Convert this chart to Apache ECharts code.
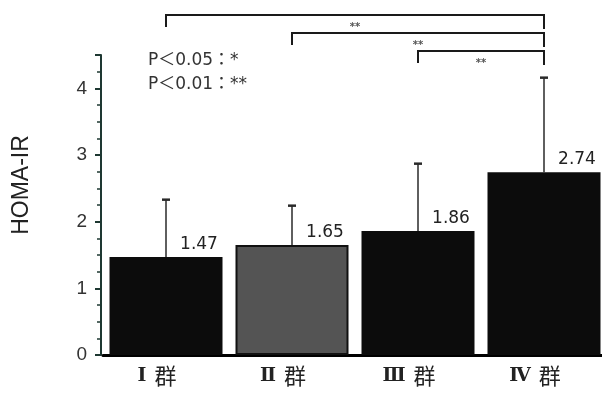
<!DOCTYPE html>
<html>
<head>
<meta charset="utf-8">
<script src="https://cdn.jsdelivr.net/npm/echarts@6/dist/echarts.min.js"></script>
<style>html,body{margin:0;padding:0;background:#fff}#c{width:602px;height:394px}</style>
</head>
<body>
<div id="c"></div>
<script>
// ---- data ----
var categories = ['Ⅰ群', 'Ⅱ群', 'Ⅲ群', 'Ⅳ群'];
var means = [1.47, 1.65, 1.86, 2.74];
var errorTops = [2.33, 2.24, 2.87, 4.16];
var yTicks = [0, 1, 2, 3, 4];
var brackets = [[0, 3, '**'], [1, 3, '**'], [2, 3, '**']];
var legendLines = ['P＜0.05：*', 'P＜0.01：**'];

// ---- styles ----
var barColors = ['#0c0c0c', '#545454', '#0c0c0c', '#0c0c0c'];
var axisColor = '#1e3832';

var chart = echarts.init(document.getElementById('c'));

var barData = means.map(function (v, i) {
  return {
    value: v,
    itemStyle: { color: barColors[i], borderColor: '#111', borderWidth: i === 1 ? 2 : 0 }
  };
});
var errData = means.map(function (v, i) { return [i, v, errorTops[i]]; });
var brData = brackets.map(function (b, k) { return [b[0], b[1], k, b[2]]; });

chart.setOption({
  animation: false,
  grid: { left: 103, width: 504, top: 55, height: 300, containLabel: false, outerBoundsMode: 'none' },
  xAxis: {
    type: 'category',
    data: categories,
    axisLine: { lineStyle: { color: '#000', width: 3 } },
    axisTick: { show: false },
    axisLabel: {
      margin: 10,
      padding: [0, 18, 0, 0],
      formatter: function (v) {
        return '{r|' + v.slice(0, -1) + '}{g|' + v.slice(-1) + '}';
      },
      rich: {
        r: { fontFamily: 'DejaVu Serif', fontWeight: 'bold', fontSize: 19, color: '#222', padding: [0, 8, 0, 0] },
        g: { fontFamily: 'Noto Sans CJK JP', fontSize: 22, color: '#222' }
      }
    }
  },
  yAxis: {
    type: 'value',
    min: 0, max: 4.5, interval: 1,
    offset: 2,
    name: 'HOMA-IR',
    nameLocation: 'middle',
    nameGap: 68,
    nameTextStyle: { fontFamily: 'Liberation Sans', fontSize: 23, color: '#222', padding: [0, 0, 0, 40] },
    axisLine: { show: true, lineStyle: { color: axisColor, width: 2 } },
    axisTick: { show: true, inside: false, length: 6, lineStyle: { color: axisColor, width: 2 } },
    minorTick: { show: true, splitNumber: 4, length: 4, lineStyle: { color: axisColor, width: 1.5 } },
    splitLine: { show: false },
    axisLabel: {
      margin: 14,
      fontFamily: 'Liberation Sans', fontSize: 19, color: '#333',
      formatter: function (v) { return yTicks.indexOf(v) >= 0 ? String(v) : ''; }
    }
  },
  series: [
    {
      type: 'bar',
      data: barData,
      barWidth: 113,
      label: {
        show: true, position: 'top', distance: 4, offset: [33, 0],
        fontFamily: 'DejaVu Sans', fontSize: 17, color: '#222',
        formatter: function (p) { return p.value.toFixed(2); }
      },
      z: 2
    },
    {
      type: 'custom',
      data: errData,
      encode: { x: 0, y: [1, 2] },
      clip: false,
      z: 3,
      renderItem: function (params, api) {
        var b = api.coord([api.value(0), api.value(1)]);
        var t = api.coord([api.value(0), api.value(2)]);
        return {
          type: 'group',
          children: [
            { type: 'line', shape: { x1: b[0], y1: b[1], x2: t[0], y2: t[1] }, style: { stroke: '#2a2a2a', lineWidth: 1.5 } },
            { type: 'line', shape: { x1: t[0] - 4, y1: t[1], x2: t[0] + 4, y2: t[1] }, style: { stroke: '#2a2a2a', lineWidth: 2.5 } }
          ]
        };
      }
    },
    {
      type: 'custom',
      data: brData,
      encode: { x: [0, 1], y: 2 },
      clip: false,
      z: 3,
      renderItem: function (params, api) {
        var level = brackets.length - 1 - api.value(2);
        var yv = 4.56 + level * 0.27;
        var drop = 0.18;
        var p1 = api.coord([api.value(0), yv]);
        var p2 = api.coord([api.value(1), yv]);
        var p1b = api.coord([api.value(0), yv - drop]);
        var p2b = api.coord([api.value(1), yv - drop - 0.03]);
        var st = { stroke: '#1a1a1a', lineWidth: 2, fill: null };
        return {
          type: 'group',
          children: [
            { type: 'polyline', shape: { points: [[p1b[0], p1b[1]], [p1[0], p1[1]], [p2[0], p2[1]], [p2b[0], p2b[1]]] }, style: st },
            { type: 'text', style: { text: brData[params.dataIndex][3], x: (p1[0] + p2[0]) / 2, y: p1[1] + 12, align: 'center', verticalAlign: 'middle', fill: '#555', font: 'bold 10px DejaVu Sans' } }
          ]
        };
      }
    }
  ],
  graphic: legendLines.map(function (t, i) {
    return {
      type: 'text', left: 148, top: 52 + i * 24,
      style: { text: t, fill: '#333', font: '17px DejaVu Sans, Noto Sans CJK JP' }
    };
  })
});
</script>
</body>
</html>
